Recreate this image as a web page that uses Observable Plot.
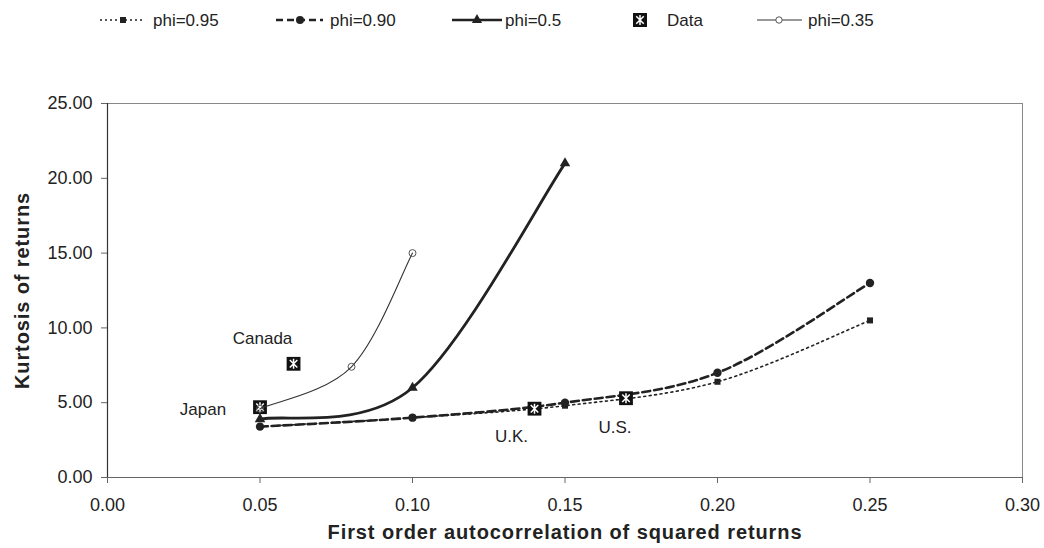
<!DOCTYPE html>
<html><head><meta charset="utf-8">
<script src="https://cdn.jsdelivr.net/npm/d3@7"></script>
<script src="https://cdn.jsdelivr.net/npm/@observablehq/plot@0.6"></script>
<style>
body{margin:0;background:#fff;font-family:"Liberation Sans",Arial,sans-serif;}
#legend{display:block;}
</style></head><body>
<div id="legend"></div>
<div id="chart"></div>
<script>
// ---- data ----
const xs = [0.05, 0.10, 0.15, 0.20, 0.25];
const phi095 = [3.4, 4.0, 4.8, 6.4, 10.5];
const phi090 = [3.4, 4.0, 5.0, 7.0, 13.0];
const xs05 = [0.05, 0.10, 0.15];
const phi05 = [3.9, 6.0, 21.0];
const xs035 = [0.05, 0.08, 0.10];
const phi035 = [4.6, 7.4, 15.0];
const countries = ["Japan", "Canada", "U.K.", "U.S."];
const countryX = [0.050, 0.061, 0.140, 0.170];
const countryY = [4.7, 7.6, 4.6, 5.3];
const xTicks = [0, 0.05, 0.10, 0.15, 0.20, 0.25, 0.30];
const yTicks = [0, 5, 10, 15, 20, 25];
const seriesNames = ["phi=0.95", "phi=0.90", "phi=0.5", "Data", "phi=0.35"];
const xTitle = "First order autocorrelation of squared returns";
const yTitle = "Kurtosis of returns";

const toRows = (xv, yv) => xv.map((x, i) => ({x, y: yv[i]}));
const s095 = toRows(xs, phi095);
const s090 = toRows(xs, phi090);
const s05 = toRows(xs05, phi05);
const s035 = toRows(xs035, phi035);
const pts = countries.map((name, i) => ({name, x: countryX[i], y: countryY[i]}));
const ink = "#222";
const font = "Liberation Sans, Arial, sans-serif";

// spreadsheet-style smoothed line (Bezier, tangents (P[i+1]-P[i-1])/6)
function smoothCurve(context) {
  let p = [];
  return {
    areaStart() {}, areaEnd() {},
    lineStart() { p = []; },
    point(x, y) { p.push([+x, +y]); },
    lineEnd() {
      const n = p.length;
      if (!n) return;
      context.moveTo(p[0][0], p[0][1]);
      for (let i = 0; i < n - 1; i++) {
        const a = p[Math.max(i - 1, 0)], b = p[i], c = p[i + 1], d = p[Math.min(i + 2, n - 1)];
        context.bezierCurveTo(
          b[0] + (c[0] - a[0]) / 6, b[1] + (c[1] - a[1]) / 6,
          c[0] - (d[0] - b[0]) / 6, c[1] - (d[1] - b[1]) / 6,
          c[0], c[1]);
      }
    }
  };
}
// "Ж"-like star used for the Data marker
const zhe = {
  draw(ctx, size) {
    const r = Math.sqrt(size / Math.PI), q = r * 0.75;
    ctx.moveTo(0, -r); ctx.lineTo(0, r);
    ctx.moveTo(-q, -q); ctx.lineTo(q, q);
    ctx.moveTo(-q, q); ctx.lineTo(q, -q);
  }
};
const curve = {curve: smoothCurve};
const label = (name, dx, dy) => Plot.text(pts.filter(d => d.name === name),
  {x: "x", y: "y", text: "name", dx, dy, fontSize: 17, fill: ink});

const chart = Plot.plot({
  width: 1044, height: 518,
  marginTop: 73, marginBottom: 71, marginLeft: 107, marginRight: 22,
  x: {domain: [0, 0.30]},
  y: {domain: [0, 25]},
  style: {fontFamily: font, background: "#fff", color: ink},
  marks: [
    Plot.frame({stroke: "#888", strokeWidth: 1}),
    Plot.axisX({ticks: xTicks, tickFormat: d3.format(".2f"), tickSize: 6, tickPadding: 15,
      fontSize: 18, stroke: "#666", fill: ink, label: null}),
    Plot.axisY({ticks: yTicks, tickFormat: d3.format(".2f"), tickSize: 6, tickPadding: 9,
      fontSize: 18, stroke: "#666", fill: ink, label: null}),
    Plot.ruleY([0], {stroke: "#666", strokeWidth: 1.2}),
    Plot.ruleX([0], {stroke: "#333", strokeWidth: 1.2}),
    // phi=0.95
    Plot.line(s095, {x: "x", y: "y", stroke: ink, strokeWidth: 1.6, strokeDasharray: "2,3.5", ...curve}),
    Plot.dot(s095, {x: "x", y: "y", symbol: "square", r: 3.4, fill: ink, stroke: null}),
    // phi=0.90
    Plot.line(s090, {x: "x", y: "y", stroke: ink, strokeWidth: 2.6, strokeDasharray: "8,4", ...curve}),
    Plot.dot(s090, {x: "x", y: "y", symbol: "circle", r: 4.2, fill: ink, stroke: null}),
    // phi=0.5
    Plot.line(s05, {x: "x", y: "y", stroke: ink, strokeWidth: 2.8, ...curve}),
    Plot.dot(s05, {x: "x", y: "y", symbol: "triangle", r: 3.9, fill: ink, stroke: null}),
    // Data
    Plot.dot(pts, {x: "x", y: "y", symbol: "square", r: 7.8, fill: "#111", stroke: null}),
    Plot.dot(pts, {x: "x", y: "y", symbol: zhe, r: 5, stroke: "#fff", strokeWidth: 1.5}),
    // phi=0.35
    Plot.line(s035, {x: "x", y: "y", stroke: "#333", strokeWidth: 1.1, ...curve}),
    Plot.dot(s035, {x: "x", y: "y", symbol: "circle", r: 3.5, fill: "none", stroke: "#555", strokeWidth: 1}),
    // labels
    label("Japan", -57, 2),
    label("Canada", -31, -25),
    label("U.K.", -23, 28),
    label("U.S.", -11, 29),
    // titles
    Plot.text([xTitle], {frameAnchor: "bottom", text: d => d, dy: 55, textAnchor: "middle", lineAnchor: "middle",
      fontSize: 20, fontWeight: "bold", fill: ink}),
    Plot.text([yTitle], {frameAnchor: "left", text: d => d, dx: -85, dy: 0, rotate: -90,
      textAnchor: "middle", lineAnchor: "middle", fontSize: 20, fontWeight: "bold", fill: ink})
  ]
});
document.getElementById("chart").append(chart);
d3.select(chart).selectAll("text")
  .filter(function() { return this.textContent === xTitle || this.textContent === yTitle; })
  .attr("letter-spacing", "0.9px");

// ---- legend (above the chart) ----
const lg = d3.select("#legend").append("svg").attr("width", 1044).attr("height", 30)
  .style("display", "block").style("font-family", font);
const cy = 20;
const items = [
  {x0: 100, x1: 145, dash: "2,3", sw: 1.6, sym: "square", mx: 123, tx: 153},
  {x0: 276, x1: 323, dash: "7,4", sw: 2.4, sym: "circle", mx: 300, tx: 330},
  {x0: 452, x1: 502, dash: null, sw: 2.6, sym: "triangle", mx: 477, tx: 505},
  {x0: null, x1: null, dash: null, sw: 0, sym: "data", mx: 640, tx: 667},
  {x0: 757, x1: 802, dash: null, sw: 1, sym: "open", mx: 779, tx: 808}
];
items.forEach((it, i) => {
  if (it.x0 !== null) {
    const l = lg.append("line").attr("x1", it.x0).attr("x2", it.x1).attr("y1", cy).attr("y2", cy)
      .attr("stroke", i === 4 ? "#333" : ink).attr("stroke-width", it.sw);
    if (it.dash) l.attr("stroke-dasharray", it.dash);
  }
  if (it.sym === "square") lg.append("rect").attr("x", it.mx - 3).attr("y", cy - 3).attr("width", 6).attr("height", 6).attr("fill", ink);
  if (it.sym === "circle") lg.append("circle").attr("cx", it.mx).attr("cy", cy).attr("r", 4).attr("fill", ink);
  if (it.sym === "triangle") lg.append("path").attr("d", d3.symbol(d3.symbolTriangle, 45)()).attr("transform", `translate(${it.mx},${cy})`).attr("fill", ink);
  if (it.sym === "open") lg.append("circle").attr("cx", it.mx).attr("cy", cy).attr("r", 3.2).attr("fill", "#fff").attr("stroke", "#555");
  if (it.sym === "data") {
    lg.append("rect").attr("x", it.mx - 7).attr("y", cy - 7).attr("width", 14).attr("height", 14).attr("fill", "#111");
    lg.append("path").attr("d", d3.symbol(zhe, Math.PI * 25)()).attr("transform", `translate(${it.mx},${cy})`)
      .attr("stroke", "#fff").attr("stroke-width", 1.5).attr("fill", "none");
  }
  lg.append("text").attr("x", it.tx).attr("y", cy).attr("dy", "0.35em").attr("font-size", 17)
    .attr("fill", ink).text(seriesNames[i]);
});
</script>
</body></html>
